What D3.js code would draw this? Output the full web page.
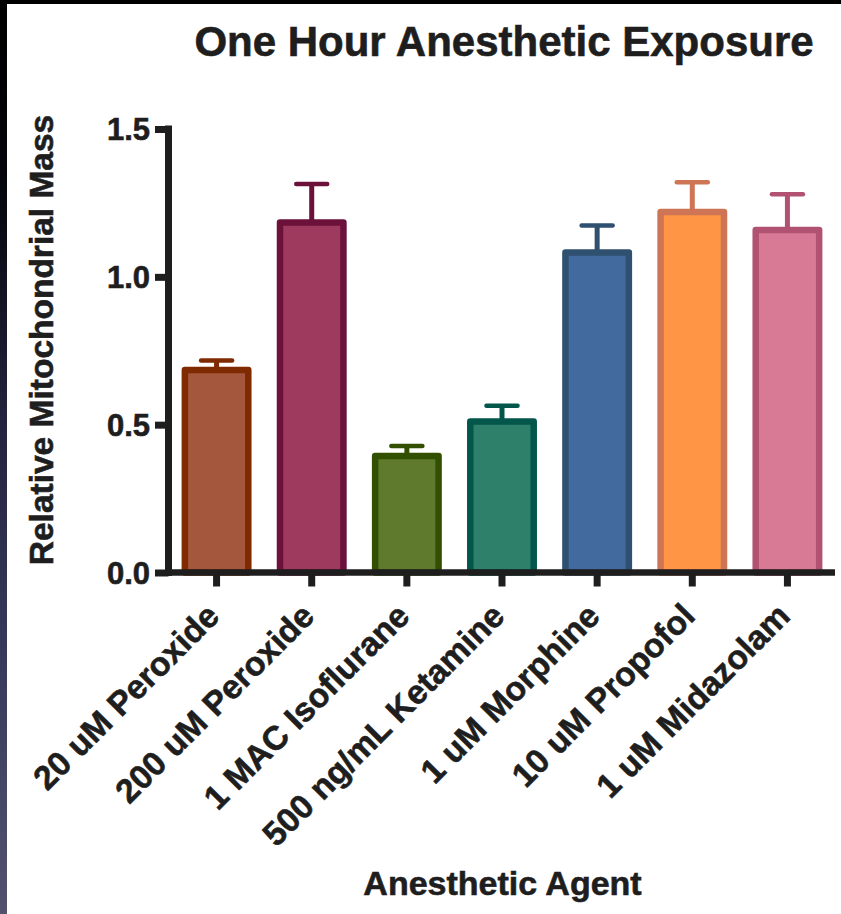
<!DOCTYPE html>
<html>
<head>
<meta charset="utf-8">
<script src="https://cdn.jsdelivr.net/npm/d3@7"></script>
<style>
  html, body { margin: 0; padding: 0; background: #fff; }
  svg { display: block; }
  text { font-family: "Liberation Sans", Arial, Helvetica, sans-serif; font-weight: bold; fill: #1e1e1e; stroke: #1e1e1e; stroke-width: 0.6px; }
</style>
</head>
<body>
<script>
const categories = ["20 uM Peroxide", "200 uM Peroxide", "1 MAC Isoflurane", "500 ng/mL Ketamine", "1 uM Morphine", "10 uM Propofol", "1 uM Midazolam"];
const means = [0.685, 1.184, 0.394, 0.511, 1.082, 1.219, 1.158];
const errors = [0.032, 0.130, 0.034, 0.053, 0.092, 0.101, 0.121];
const fillColors = ["#A5573D", "#9E3A5E", "#5F7A2D", "#2E806A", "#436A9E", "#FF9545", "#D87A96"];
const strokeColors = ["#7F2A00", "#6B113A", "#335000", "#02564A", "#30506F", "#CD7554", "#B15272"];
const yTicks = [0, 0.5, 1.0, 1.5];
const titleText = "One Hour Anesthetic Exposure";
const xTitle = "Anesthetic Agent";
const yTitle = "Relative Mitochondrial Mass";

const W = 841, H = 914;
const svg = d3.select("body").append("svg").attr("width", W).attr("height", H);

// frame decoration
const defs = svg.append("defs");
const grad = defs.append("linearGradient").attr("id", "leftStrip").attr("x1", 0).attr("y1", 0).attr("x2", 0).attr("y2", 1);
[["0%", "#000000"], ["20%", "#05050c"], ["45%", "#22223c"], ["70%", "#37375a"], ["100%", "#52526f"]]
  .forEach(([o, c]) => grad.append("stop").attr("offset", o).attr("stop-color", c));
svg.append("rect").attr("x", 0).attr("y", 0).attr("width", W).attr("height", H).attr("fill", "#fff");
svg.append("rect").attr("x", 0).attr("y", 0).attr("width", 7).attr("height", H).attr("fill", "url(#leftStrip)");
svg.append("rect").attr("x", 0).attr("y", 0).attr("width", W).attr("height", 4).attr("fill", "#000");

const x = d3.scaleBand().domain(categories).range([169, 835]).paddingInner(1/3).paddingOuter(1/6);
const y = d3.scaleLinear().domain([0, 1.5]).range([572.5, 129]);

const data = categories.map((c, i) => ({ c, m: means[i], e: errors[i], fill: fillColors[i], stroke: strokeColors[i] }));

// error bars
const eb = svg.append("g");
data.forEach(d => {
  const cx = x(d.c) + x.bandwidth() / 2;
  eb.append("line").attr("x1", cx).attr("x2", cx).attr("y1", y(d.m)).attr("y2", y(d.m + d.e))
    .attr("stroke", d.stroke).attr("stroke-width", 5);
  eb.append("line").attr("x1", cx - 15.5).attr("x2", cx + 15.5).attr("y1", y(d.m + d.e)).attr("y2", y(d.m + d.e))
    .attr("stroke", d.stroke).attr("stroke-width", 4.5).attr("stroke-linecap", "round");
});

// bars
svg.append("g").selectAll("rect").data(data).join("rect")
  .attr("x", d => x(d.c))
  .attr("width", x.bandwidth())
  .attr("y", d => y(d.m))
  .attr("height", d => y(0) - y(d.m))
  .attr("fill", d => d.fill)
  .attr("stroke", d => d.stroke)
  .attr("stroke-width", 6.5)
  .attr("stroke-linejoin", "round");

// y axis
const yAxis = svg.append("g").attr("transform", `translate(168.5,0)`)
  .call(d3.axisLeft(y).tickValues(yTicks).tickFormat(d3.format(".1f")).tickSize(13.5).tickSizeOuter(0).tickPadding(5));
yAxis.select(".domain").remove();
yAxis.selectAll(".tick line").attr("stroke", "#1e1e1e").attr("stroke-width", 7);
yAxis.selectAll(".tick text").attr("font-size", 31).attr("x", -18.5).attr("dy", "0.35em")
  .attr("fill", null).attr("font-family", null);
svg.append("line").attr("x1", 168.5).attr("x2", 168.5).attr("y1", y(1.5) - 3.5).attr("y2", y(0) + 3.5)
  .attr("stroke", "#1e1e1e").attr("stroke-width", 7);

// x axis
const xAxis = svg.append("g").attr("transform", `translate(0,${y(0)})`)
  .call(d3.axisBottom(x).tickSize(14).tickSizeOuter(0));
xAxis.select(".domain").remove();
xAxis.selectAll(".tick line").attr("stroke", "#1e1e1e").attr("stroke-width", 7);
xAxis.selectAll(".tick text")
  .attr("font-size", 33.5).attr("fill", null).attr("font-family", null)
  .attr("x", null).attr("y", null).attr("dy", null)
  .attr("text-anchor", "end")
  .attr("transform", "translate(4.5,45.5) rotate(-45)");
svg.append("line").attr("x1", 165).attr("x2", 835).attr("y1", y(0)).attr("y2", y(0))
  .attr("stroke", "#1e1e1e").attr("stroke-width", 6.5);

// titles
svg.append("text").attr("x", 504).attr("y", 56).attr("text-anchor", "middle").attr("font-size", 42).text(titleText);
svg.append("text").attr("x", 502.5).attr("y", 895).attr("text-anchor", "middle").attr("font-size", 34).text(xTitle);
svg.append("text").attr("transform", "translate(52.5,340) rotate(-90)").attr("text-anchor", "middle").attr("font-size", 33.5).text(yTitle);
</script>
</body>
</html>
